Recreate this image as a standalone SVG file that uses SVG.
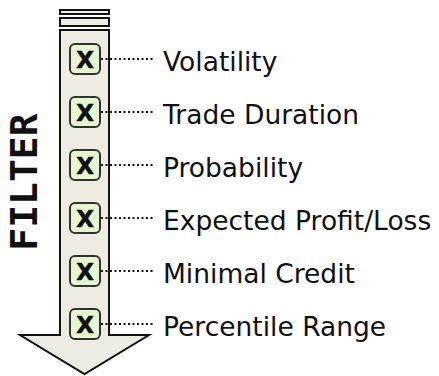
<svg xmlns="http://www.w3.org/2000/svg" width="439" height="376" viewBox="0 0 439 376">
<style>
.arrow{fill:#eeebe2;stroke:#111;stroke-width:2}
.cb{fill:#e5f7d0;stroke:#333;stroke-width:2}
.x{font-family:"DejaVu Sans",sans-serif;font-weight:bold;font-size:23px;fill:#111;text-anchor:middle;stroke:#111;stroke-width:0.5}
.lbl{font-family:"DejaVu Sans","Liberation Sans",sans-serif;font-size:26.5px;fill:#111}
.dot{stroke:#111;stroke-width:2;stroke-dasharray:2 2.5;fill:none}
.title{font-family:"DejaVu Sans Mono",monospace;font-weight:bold;font-size:38px;fill:#111;text-anchor:middle}
</style>
<rect width="439" height="376" fill="#fff"/>
<g id="arrow">
<rect class="arrow" x="60" y="10" width="49" height="4"/>
<rect class="arrow" x="60" y="18" width="49" height="8"/>
<polygon class="arrow" points="60,30 109,30 109,335 149,335 84.5,374 20,335 60,335"/>
</g>
<g id="title"><text class="title" transform="translate(37,182) rotate(-90)">FILTER</text></g>
<g id="connectors">
<line class="dot" x1="101" y1="59" x2="155" y2="59"/>
<line class="dot" x1="101" y1="112" x2="155" y2="112"/>
<line class="dot" x1="101" y1="165" x2="155" y2="165"/>
<line class="dot" x1="101" y1="218" x2="155" y2="218"/>
<line class="dot" x1="101" y1="271" x2="155" y2="271"/>
<line class="dot" x1="101" y1="324" x2="155" y2="324"/>
</g>
<g id="n1"><rect class="cb" x="70" y="44" width="30" height="30" rx="5"/><text class="x" x="85" y="67.5">X</text><text class="lbl" x="163" y="71">Volatility</text></g>
<g id="n2"><rect class="cb" x="70" y="97" width="30" height="30" rx="5"/><text class="x" x="85" y="120.5">X</text><text class="lbl" x="163" y="124">Trade Duration</text></g>
<g id="n3"><rect class="cb" x="70" y="150" width="30" height="30" rx="5"/><text class="x" x="85" y="173.5">X</text><text class="lbl" x="163" y="177">Probability</text></g>
<g id="n4"><rect class="cb" x="70" y="203" width="30" height="30" rx="5"/><text class="x" x="85" y="226.5">X</text><text class="lbl" x="163" y="230">Expected Profit/Loss</text></g>
<g id="n5"><rect class="cb" x="70" y="256" width="30" height="30" rx="5"/><text class="x" x="85" y="279.5">X</text><text class="lbl" x="163" y="283">Minimal Credit</text></g>
<g id="n6"><rect class="cb" x="70" y="309" width="30" height="30" rx="5"/><text class="x" x="85" y="332.5">X</text><text class="lbl" x="163" y="336">Percentile Range</text></g>
</svg>
